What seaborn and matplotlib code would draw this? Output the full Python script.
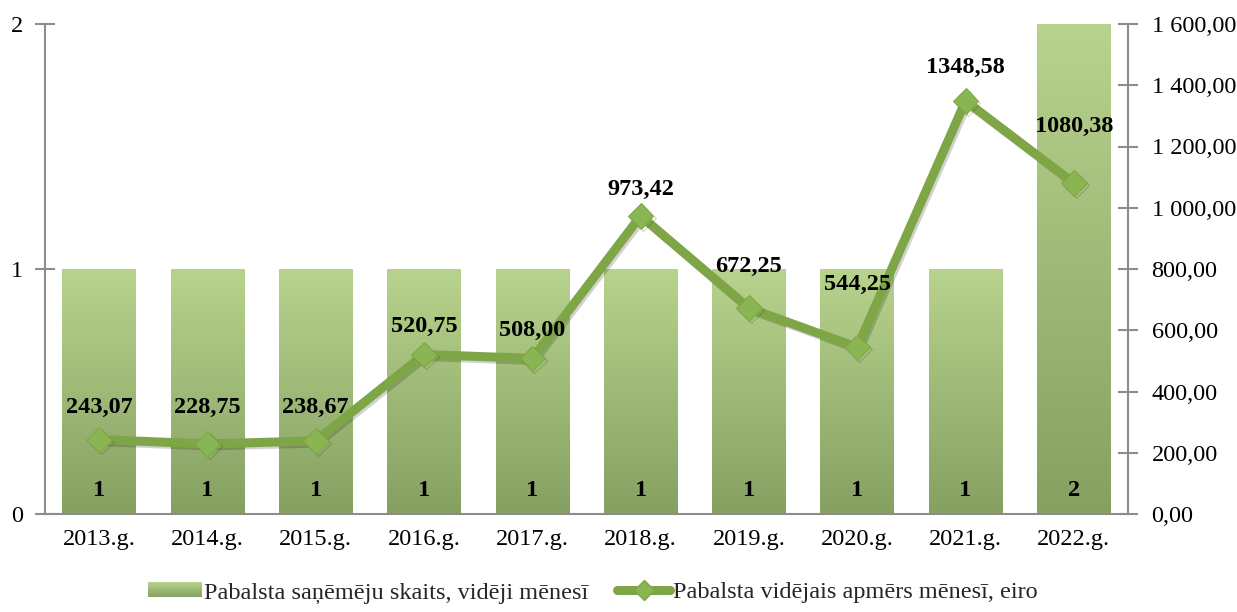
import numpy as np
import matplotlib
matplotlib.use("Agg")
import matplotlib.pyplot as plt
import matplotlib.patheffects as pe
from matplotlib.colors import LinearSegmentedColormap
from matplotlib.patches import Patch
from matplotlib.lines import Line2D
from matplotlib.legend_handler import HandlerPatch
from matplotlib.image import BboxImage
from matplotlib.transforms import Bbox, TransformedBbox
import seaborn as sns
import pandas as pd

# Data
years = ["2013.g.", "2014.g.", "2015.g.", "2016.g.", "2017.g.",
         "2018.g.", "2019.g.", "2020.g.", "2021.g.", "2022.g."]
recipients = [1, 1, 1, 1, 1, 1, 1, 1, 1, 2]
avg_amount = [243.07, 228.75, 238.67, 520.75, 508.00,
              973.42, 672.25, 544.25, 1348.58, 1080.38]
bar_label = "Pabalsta saņēmēju skaits, vidēji mēnesī"
line_label = "Pabalsta vidējais apmērs mēnesī, eiro"

# Vertical offsets (points) of the amount labels above their markers
label_offsets = [23, 26, 24, 20, 20, 19, 30, 45, 24, 41]

sns.set_theme(style="white")
plt.rcParams["font.family"] = ["Liberation Serif", "DejaVu Serif"]

FS = 17.5
bar_top = "#b8d38d"
bar_bottom = "#86a062"
line_color = "#7ea647"
marker_face = "#8ab553"
axis_grey = "#8c8c8c"
grad_cmap = LinearSegmentedColormap.from_list("bargrad", [bar_bottom, bar_top])

fig = plt.figure(figsize=(12.37, 6.12), dpi=100)
ax = fig.add_axes([45 / 1237, 1 - 514 / 612, (1128 - 45) / 1237, (514 - 24) / 612])

df = pd.DataFrame({"year": years, "count": recipients})
sns.barplot(data=df, x="year", y="count", ax=ax, width=0.68,
            color=bar_top, saturation=1, zorder=2)

# Vertical gradient fill clipped to each bar
grad = np.linspace(0, 1, 256).reshape(-1, 1)
for patch in ax.patches:
    x0, y0 = patch.get_x(), patch.get_y()
    w, h = patch.get_width(), patch.get_height()
    im = ax.imshow(grad, cmap=grad_cmap, origin="lower", aspect="auto",
                   extent=[x0, x0 + w, y0, y0 + h], zorder=2)
    im.set_clip_path(patch)
    patch.set_facecolor("none")
    patch.set_edgecolor("none")

# Count labels at bar bottoms
for i, v in enumerate(recipients):
    ax.annotate(f"{v}", xy=(i, 0), xytext=(0, 17), textcoords="offset points",
                ha="center", va="center", fontsize=FS, fontweight="bold",
                color="black", zorder=5)

ax.set_xlim(-0.5, len(years) - 0.5)
ax.set_ylim(0, 2)
ax.set_yticks([0, 1, 2])
ax.set_xlabel("")
ax.set_ylabel("")
ax.set_xticks(range(len(years)))
ax.set_xticklabels(years)
ax.set_xticks(np.arange(-0.5, len(years) + 0.5, 1), minor=True)
ax.tick_params(axis="x", which="major", length=0, pad=11, labelsize=FS, colors="black")
ax.tick_params(axis="x", which="minor", length=7, width=1.5, color=axis_grey, direction="out")
ax.tick_params(axis="y", which="major", length=14, width=1.5, color=axis_grey,
               direction="inout", labelsize=FS, pad=9, labelcolor="black")
for s in ["top", "right"]:
    ax.spines[s].set_visible(False)
for s in ["left", "bottom"]:
    ax.spines[s].set_color(axis_grey)
    ax.spines[s].set_linewidth(1.5)
ax.grid(False)

# Average amount line on the secondary axis
ax2 = ax.twinx()
sns.lineplot(x=np.arange(len(years)), y=avg_amount, ax=ax2, color=line_color,
             linewidth=6.5, marker="D", markersize=13, markeredgecolor=line_color,
             markerfacecolor=marker_face, zorder=4,
             path_effects=[pe.SimpleLineShadow(offset=(1.5, -1.5), alpha=0.2),
                           pe.Normal()])
ax2.set_ylim(0, 1600)
ax2.set_yticks(np.arange(0, 1601, 200))
ax2.set_yticklabels([f"{v:,.2f}".replace(",", " ").replace(".", ",")
                     for v in np.arange(0, 1601, 200)])
ax2.tick_params(axis="y", which="major", length=14, width=1.5, color=axis_grey,
                direction="inout", labelsize=FS, pad=10, labelcolor="black")
for s in ["top", "left", "bottom"]:
    ax2.spines[s].set_visible(False)
ax2.spines["right"].set_color(axis_grey)
ax2.spines["right"].set_linewidth(1.5)
ax2.set_ylabel("")
ax2.grid(False)

for i, (v, off) in enumerate(zip(avg_amount, label_offsets)):
    txt = f"{v:.2f}".replace(".", ",")
    ax2.annotate(txt, xy=(i, v), xytext=(0, off), textcoords="offset points",
                 ha="center", va="center", fontsize=FS, fontweight="bold",
                 color="black", zorder=6)
if ax2.get_legend():
    ax2.get_legend().remove()


class GradientPatchHandler(HandlerPatch):
    def create_artists(self, legend, orig_handle, xdescent, ydescent,
                       width, height, fontsize, trans):
        bb = Bbox.from_bounds(-xdescent, -ydescent, width, height)
        tbb = TransformedBbox(bb, trans)
        img = BboxImage(tbb, cmap=grad_cmap, origin="lower")
        img.set_data(grad)
        return [img]


handles = [Patch(facecolor=bar_top, label=bar_label),
           Line2D([0], [0], color=line_color, linewidth=6.5, marker="D",
                  markersize=10, markerfacecolor=marker_face,
                  markeredgecolor=line_color, label=line_label)]
fig.legend(handles=handles, loc="center", bbox_to_anchor=(0.479, 0.031),
           ncol=2, frameon=False, fontsize=FS, handlelength=2.2,
           handleheight=0.55, handletextpad=0.1, columnspacing=1.2,
           borderpad=0, handler_map={Patch: GradientPatchHandler()})

fig.savefig("out.png", dpi=100)
